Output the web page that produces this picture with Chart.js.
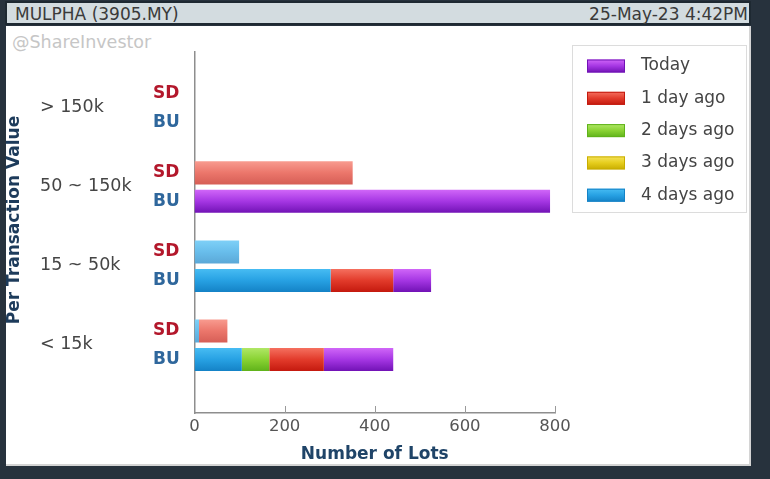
<!DOCTYPE html>
<html>
<head>
<meta charset="utf-8">
<script src="https://cdn.jsdelivr.net/npm/chart.js@4.4.1/dist/chart.umd.min.js"></script>
<style>
  html, body { margin: 0; padding: 0; width: 770px; height: 479px; overflow: hidden; background: #27323d; }
  #bar { position: absolute; left: 5px; top: 1px; width: 742px; height: 20px; background: #d3dce0;
         border: 2px solid #1e2932; font: 17px 'DejaVu Sans', sans-serif; color: #3a3a3a; }
  #sym { position: absolute; left: 8px; top: 1px; }
  #ts  { position: absolute; right: 1px; top: 1px; }
  #panel { position: absolute; left: 6px; top: 26px; width: 745px; height: 440px; background: #fff;
           box-shadow: inset -2px -2px 0 #d4d4d4; }
  #mark { position: absolute; left: 6px; top: 6px; font: 17.5px 'DejaVu Sans', sans-serif; color: #c6c6c6; }
  canvas { position: absolute; left: 0; top: 0; }
</style>
</head>
<body>
<div id="bar"><span id="sym">MULPHA (3905.MY)</span><span id="ts">25-May-23 4:42PM</span></div>
<div id="panel">
  <div id="mark">@ShareInvestor</div>
  <canvas id="c" width="745" height="440"></canvas>
</div>
<script>
// Transaction-size buckets (top to bottom) and the two sides shown per bucket
const categories = ['> 150k', '50 ~ 150k', '15 ~ 50k', '< 15k'];
const sides = ['SD', 'BU'];
const dayLabels = ['Today', '1 day ago', '2 days ago', '3 days ago', '4 days ago'];
const xTicks = [0, 200, 400, 600, 800];

// Number of lots, buy-up side
const buToday  = [0, 789, 84, 154];
const bu1Day   = [0, 0, 139, 121];
const bu2Days  = [0, 0, 0, 61];
const bu3Days  = [0, 0, 0, 0];
const bu4Days  = [0, 0, 302, 105];

// Number of lots, sell-down side
const sdToday  = [0, 0, 0, 0];
const sd1Day   = [0, 351, 0, 63];
const sd2Days  = [0, 0, 0, 0];
const sd3Days  = [0, 0, 0, 0];
const sd4Days  = [0, 0, 99, 10];

// Glossy fills per day: light top, darker bottom
const dayColors = {
  'Today':      { top: '#d066f8', mid: '#a536e3', bottom: '#7112b5' },
  '1 day ago':  { top: '#f5705f', mid: '#e23b2b', bottom: '#c4190e' },
  '2 days ago': { top: '#b0e766', mid: '#89d233', bottom: '#5fb21a' },
  '3 days ago': { top: '#f5e45c', mid: '#e6cd1d', bottom: '#c8ad00' },
  '4 days ago': { top: '#47bcf3', mid: '#27a1e3', bottom: '#1482c6' }
};
const sideColors = { SD: '#b3172b', BU: '#2f679c' };

function mixWhite(hex, t) {
  const n = parseInt(hex.slice(1), 16);
  const ch = [n >> 16, (n >> 8) & 255, n & 255].map(v => Math.round(v + (255 - v) * t));
  return 'rgb(' + ch.join(',') + ')';
}
function soften(p, t) {
  return { top: mixWhite(p.top, t), mid: mixWhite(p.mid, t), bottom: mixWhite(p.bottom, t) };
}
function glossy(c2d, y0, y1, p) {
  const g = c2d.createLinearGradient(0, y0, 0, y1);
  g.addColorStop(0, p.top);
  g.addColorStop(0.5, p.mid);
  g.addColorStop(1, p.bottom);
  return g;
}
function barFill(p) {
  return (ctx) => {
    const el = ctx.element;
    if (!el || !isFinite(el.y) || !el.height) return p.mid;
    return glossy(ctx.chart.ctx, el.y - el.height / 2, el.y + el.height / 2, p);
  };
}

// Series stacked from the oldest day outward
const bySide = {
  SD: { '4 days ago': sd4Days, '3 days ago': sd3Days, '2 days ago': sd2Days, '1 day ago': sd1Day, 'Today': sdToday },
  BU: { '4 days ago': bu4Days, '3 days ago': bu3Days, '2 days ago': bu2Days, '1 day ago': bu1Day, 'Today': buToday }
};
const datasets = [];
dayLabels.slice().reverse().forEach(day => {
  sides.forEach(side => {
    const pal = side === 'SD' ? soften(dayColors[day], 0.3) : dayColors[day];
    datasets.push({
      label: day,
      stack: side,
      data: bySide[side][day],
      backgroundColor: barFill(pal),
      borderWidth: 0,
      categoryPercentage: 0.72,
      barPercentage: 0.81
    });
  });
});

const FONT = "'DejaVu Sans', sans-serif";

const labelsPlugin = {
  id: 'rowLabels',
  afterDraw(chart) {
    const c = chart.ctx;
    const yScale = chart.scales.y;
    const sdMeta = chart.getDatasetMeta(datasets.findIndex(d => d.stack === 'SD'));
    const buMeta = chart.getDatasetMeta(datasets.findIndex(d => d.stack === 'BU'));
    c.save();
    c.textBaseline = 'middle';
    c.textAlign = 'left';
    categories.forEach((cat, i) => {
      c.font = '17.5px ' + FONT;
      c.fillStyle = '#454545';
      c.fillText(cat, 34, yScale.getPixelForValue(i) - 1);
      c.font = 'bold 17px ' + FONT;
      c.fillStyle = sideColors.SD;
      c.fillText('SD', 147, sdMeta.data[i].y);
      c.fillStyle = sideColors.BU;
      c.fillText('BU', 147, buMeta.data[i].y);
    });
    // value-axis title, rotated
    c.translate(8.5, 194);
    c.rotate(-Math.PI / 2);
    c.textAlign = 'center';
    c.font = 'bold 17px ' + FONT;
    c.fillStyle = '#1d3b5b';
    c.fillText('Per Transaction Value', 0, 0);
    c.restore();

    // short inner tick marks on the lots axis
    const xs = chart.scales.x;
    const base = chart.chartArea.bottom;
    c.save();
    c.strokeStyle = '#9a9a9a';
    c.lineWidth = 1;
    xTicks.slice(1).forEach(v => {
      const px = Math.round(xs.getPixelForValue(v)) + 0.5;
      c.beginPath();
      c.moveTo(px, base);
      c.lineTo(px, base - 7);
      c.stroke();
    });
    c.restore();
  }
};

const legendPlugin = {
  id: 'dayLegend',
  afterDraw(chart) {
    const c = chart.ctx;
    const x0 = chart.chartArea.right + 17, y0 = 19, w = 174, h = 167;
    c.save();
    c.fillStyle = '#fff';
    c.fillRect(x0, y0, w, h);
    c.strokeStyle = '#dcdcdc';
    c.lineWidth = 1;
    c.strokeRect(x0 + 0.5, y0 + 0.5, w, h);
    c.textBaseline = 'middle';
    c.textAlign = 'left';
    c.font = '17px ' + FONT;
    dayLabels.forEach((day, i) => {
      const cy = y0 + 21 + i * 32.3;
      const p = dayColors[day];
      const sx = x0 + 15, sw = 38, sh = 13;
      c.fillStyle = glossy(c, cy - sh / 2, cy + sh / 2, p);
      c.fillRect(sx, cy - sh / 2, sw, sh);
      c.strokeStyle = p.bottom;
      c.strokeRect(sx + 0.5, cy - sh / 2 + 0.5, sw - 1, sh - 1);
      c.fillStyle = '#444';
      c.fillText(day, x0 + 69, cy);
    });
    c.restore();
  }
};

const chart = new Chart(document.getElementById('c'), {
  type: 'bar',
  data: { labels: categories.map((_, i) => i), datasets },
  options: {
    indexAxis: 'y',
    responsive: false,
    animation: false,
    events: [],
    layout: { padding: { top: 26, right: 196, left: 0, bottom: 0.8 } },
    plugins: { legend: { display: false }, tooltip: { enabled: false } },
    scales: {
      x: {
        type: 'linear', min: 0, max: 800, stacked: true,
        afterBuildTicks: s => { s.ticks = xTicks.map(v => ({ value: v })); },
        afterFit: s => { s.height = 52.2; },
        grid: { display: false, drawTicks: false },
        border: { display: true, color: '#8e8e8e', width: 1.5 },
        ticks: { padding: 4, color: '#555', font: { family: FONT, size: 16.5 } },
        title: { display: true, text: 'Number of Lots', color: '#1f4468',
                 font: { family: FONT, size: 17, weight: 'bold' }, padding: { top: 0, bottom: 0 } }
      },
      y: {
        type: 'linear', reverse: true, offset: false, min: -0.708, max: 3.856,
        afterBuildTicks: s => { s.ticks = categories.map((_, i) => ({ value: i })); },
        afterFit: s => { s.width = 188.5; },
        grid: { display: false, drawTicks: false, offset: false },
        border: { display: true, color: '#8e8e8e', width: 1.5 },
        ticks: { display: false }
      }
    }
  },
  plugins: [labelsPlugin, legendPlugin]
});
// second pass so each bar's gradient follows its laid-out position
chart.update('none');
</script>
</body>
</html>
